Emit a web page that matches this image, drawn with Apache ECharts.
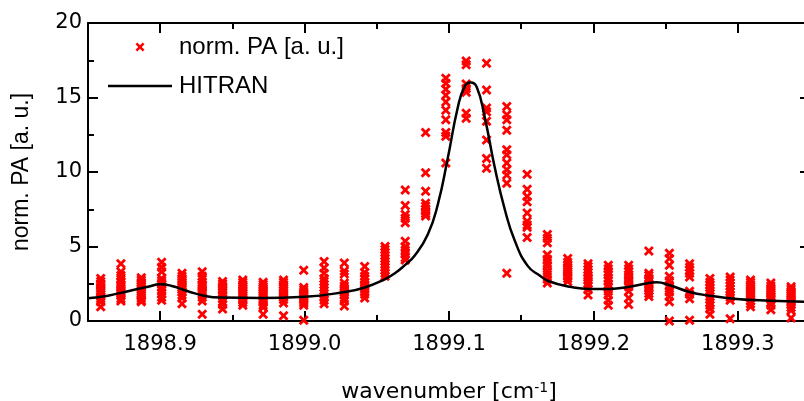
<!DOCTYPE html>
<html>
<head>
<meta charset="utf-8">
<script src="https://cdn.jsdelivr.net/npm/echarts@6/dist/echarts.min.js"></script>
<style>html,body{margin:0;padding:0;background:#fff;}#c{width:804px;height:401px;}</style>
</head>
<body>
<div id="c"></div>
<script>
// ---- data ----
const xMajorTicks = [1898.9, 1899.0, 1899.1, 1899.2, 1899.3];
const xMinorTicks = [1898.85, 1898.95, 1899.05, 1899.15, 1899.25, 1899.35];

// wavenumber of each measurement group
const paX = [1898.8588, 1898.8728, 1898.8869, 1898.9010, 1898.9151, 1898.9291, 1898.9432,
  1898.9572, 1898.9713, 1898.9854, 1898.9994, 1899.0135, 1899.0275, 1899.0416, 1899.0557,
  1899.0697, 1899.0838, 1899.0978, 1899.1119, 1899.1260, 1899.1400, 1899.1541, 1899.1681,
  1899.1822, 1899.1963, 1899.2103, 1899.2244, 1899.2384, 1899.2526, 1899.2666, 1899.2807,
  1899.2947, 1899.3088, 1899.3229, 1899.3369];

// normalised PA values measured at each wavenumber
const paY = [
  [2.85, 2.65, 2.5, 2.35, 2.2, 2.05, 1.95, 1.8, 1.65, 1.5, 1.3, 0.95],
  [3.85, 3.3, 3.05, 2.8, 2.6, 2.45, 2.3, 2.15, 2.0, 1.85, 1.7, 1.5, 1.35],
  [2.9, 2.75, 2.6, 2.45, 2.3, 2.15, 2.0, 1.85, 1.7, 1.55, 1.4, 1.3],
  [3.95, 3.6, 3.3, 2.85, 2.7, 2.55, 2.45, 2.3, 2.1, 1.85, 1.6, 1.4],
  [3.2, 3.0, 2.85, 2.7, 2.55, 2.4, 2.25, 2.1, 1.95, 1.75, 1.55, 1.15],
  [3.3, 3.0, 2.8, 2.6, 2.45, 2.3, 2.15, 2.0, 1.85, 1.6, 1.35, 0.45],
  [2.65, 2.5, 2.35, 2.2, 2.05, 1.9, 1.7, 1.5, 1.3, 1.1, 0.8],
  [2.75, 2.6, 2.45, 2.3, 2.15, 2.0, 1.85, 1.7, 1.55, 1.4, 1.25, 1.05],
  [2.6, 2.45, 2.3, 2.15, 2.0, 1.85, 1.7, 1.55, 1.4, 1.25, 1.05, 0.9, 0.45],
  [2.75, 2.6, 2.45, 2.3, 2.2, 2.05, 1.9, 1.75, 1.6, 1.45, 1.2, 0.35],
  [3.4, 2.25, 2.1, 1.95, 1.8, 1.65, 1.5, 1.35, 1.2, 1.05, 0.05],
  [4.0, 3.55, 3.2, 2.85, 2.65, 2.45, 2.25, 2.05, 1.85, 1.65, 1.4, 1.15],
  [3.9, 3.35, 3.15, 2.55, 2.35, 2.2, 2.05, 1.9, 1.75, 1.55, 1.35, 1.0],
  [3.65, 3.25, 3.0, 2.8, 2.6, 2.45, 2.3, 2.15, 2.0, 1.8, 1.55],
  [5.0, 4.8, 4.6, 4.4, 4.2, 4.0, 3.8, 3.6, 3.4, 3.2, 3.0],
  [8.8, 7.75, 7.15, 6.9, 6.6, 5.35, 5.0, 4.75, 4.5, 4.25, 4.1],
  [12.65, 9.95, 8.7, 7.9, 7.7, 7.5, 7.35, 7.2, 7.05],
  [16.3, 15.95, 15.55, 15.15, 14.7, 14.15, 13.5, 12.65, 12.4, 10.6],
  [17.45, 17.2, 15.9, 15.6, 15.35, 13.95, 13.6],
  [17.3, 15.5, 14.3, 14.05, 13.4, 12.15, 10.9, 10.25],
  [14.4, 13.85, 13.5, 12.8, 11.5, 11.15, 10.6, 10.15, 9.8, 9.25, 3.2],
  [9.85, 8.85, 8.35, 8.0, 7.25, 6.7, 6.45, 6.3, 5.6],
  [5.8, 5.55, 5.25, 4.45, 4.15, 3.9, 3.65, 3.35, 3.1, 2.8, 2.55],
  [4.2, 3.95, 3.75, 3.6, 3.45, 3.3, 3.15, 3.0, 2.85, 2.65],
  [3.85, 3.65, 3.45, 3.25, 3.05, 2.9, 2.75, 2.55, 2.35, 2.1, 1.75],
  [3.75, 3.5, 3.25, 3.1, 2.9, 2.7, 2.45, 2.25, 2.0, 1.75, 1.4, 1.05],
  [3.75, 3.5, 3.3, 3.1, 2.95, 2.8, 2.65, 2.45, 2.3, 2.0, 1.55, 1.1],
  [4.7, 3.2, 3.05, 2.85, 2.7, 2.5, 2.35, 2.2, 2.05, 1.85, 1.65],
  [4.55, 4.2, 3.75, 3.0, 2.7, 2.4, 2.2, 1.95, 1.65, 1.3, 0.0],
  [3.85, 3.6, 3.4, 3.2, 2.95, 2.0, 1.8, 1.5, 0.05],
  [2.85, 2.6, 2.4, 2.25, 2.05, 1.85, 1.65, 1.45, 1.25, 1.05, 0.8, 0.45],
  [2.95, 2.75, 2.55, 2.35, 2.15, 1.95, 1.75, 1.6, 1.4, 0.15],
  [2.75, 2.6, 2.45, 2.3, 2.15, 2.0, 1.85, 1.7, 1.55, 1.35, 1.15, 0.95],
  [2.55, 2.35, 2.2, 2.05, 1.9, 1.75, 1.6, 1.45, 1.25, 1.05, 0.75],
  [2.3, 2.15, 2.0, 1.85, 1.7, 1.55, 1.4, 1.25, 1.1, 0.9, 0.7, 0.2]
];

// HITRAN simulated spectrum
const hitranX = [1898.8500, 1898.8638, 1898.8777, 1898.8915, 1898.9000, 1898.9074, 1898.9192,
  1898.9310, 1898.9420, 1898.9697, 1899.0002, 1899.0279, 1899.0417, 1899.0555, 1899.0625,
  1899.0694, 1899.0763, 1899.0853, 1899.0922, 1899.0991, 1899.1060, 1899.1109, 1899.1150,
  1899.1192, 1899.1247, 1899.1317, 1899.1386, 1899.1455, 1899.1545, 1899.1628, 1899.1697,
  1899.1836, 1899.1974, 1899.2112, 1899.2251, 1899.2355, 1899.2438, 1899.2528, 1899.2666,
  1899.2804, 1899.2991, 1899.3220, 1899.3500];
const hitranY = [1.52, 1.70, 2.0, 2.3, 2.46, 2.37, 2.0,
  1.68, 1.57, 1.55, 1.63, 1.95, 2.25, 2.8, 3.2,
  3.75, 4.4, 5.8, 7.8, 10.9, 14.3, 15.75, 16.0,
  15.7, 13.7, 10.3, 7.5, 5.4, 3.7, 3.05, 2.65,
  2.3, 2.15, 2.15, 2.3, 2.5, 2.6, 2.4, 1.95,
  1.7, 1.48, 1.36, 1.28];

const seriesNames = ['norm. PA [a. u.]', 'HITRAN'];
const yTitle = 'norm. PA [a. u.]';

// ---- build chart ----
const scatterData = [];
paX.forEach((x, i) => paY[i].forEach(y => scatterData.push([x, y])));
const lineData = hitranX.map((x, i) => [x, hitranY[i]]);

const crossPath = 'path://M0,2L2,0L5,3L8,0L10,2L7,5L10,8L8,10L5,7L2,10L0,8L3,5Z';
const linePath = 'path://M0,0L64,0L64,2.5L0,2.5Z';
const tickFont = 'DejaVu Sans';
const AX = {color: '#000', width: 2};
const XMIN = 1898.85, XMAX = 1899.35;

function xAxisDef(pos, ticks, len, showLine, showLabel) {
  return {
    type: 'value', position: pos, min: XMIN, max: XMAX,
    splitLine: {show: false},
    axisLine: {show: showLine, lineStyle: AX},
    axisTick: {show: true, inside: true, length: len, lineStyle: AX, customValues: ticks},
    axisLabel: showLabel ? {
      show: true, customValues: ticks, margin: 13, color: '#000',
      fontFamily: tickFont, fontSize: 21,
      formatter: v => Number(v).toFixed(1)
    } : {show: false}
  };
}

const option = {
  animation: false,
  backgroundColor: '#fff',
  grid: {left: 88, top: 23, width: 722, height: 298, containLabel: false, outerBoundsMode: 'none'},
  legend: {
    orient: 'vertical', left: 103, top: 30,
    itemWidth: 64, itemHeight: 9, itemGap: 15, itemSymbolKeepAspect: true,
    textStyle: {fontFamily: 'Liberation Sans', fontSize: 24, color: '#000', padding: [0, 0, 0, 2]},
    data: [
      {name: seriesNames[0], icon: crossPath},
      {name: seriesNames[1], icon: linePath}
    ]
  },
  xAxis: [
    Object.assign(xAxisDef('bottom', xMajorTicks, 10, true, true), {
      name: 'wavenumber [cm{sup|-1}]', nameLocation: 'middle', nameGap: 60,
      nameTextStyle: {
        fontFamily: tickFont, fontSize: 22, color: '#000',
        rich: {sup: {fontFamily: tickFont, fontSize: 14, color: '#000', verticalAlign: 'top', lineHeight: 14, padding: [0, 0, 16, 0]}}
      }
    }),
    xAxisDef('bottom', xMinorTicks, 6, false, false),
    xAxisDef('top', xMajorTicks, 10, true, false),
    xAxisDef('top', xMinorTicks, 6, false, false)
  ],
  yAxis: [
    {
      type: 'value', min: 0, max: 20, interval: 5, position: 'left',
      name: yTitle, nameLocation: 'middle', nameGap: 55, nameRotate: 90,
      nameTextStyle: {fontFamily: 'Liberation Sans', fontSize: 23, color: '#000'},
      splitLine: {show: false},
      axisLine: {show: true, lineStyle: AX},
      axisTick: {show: true, inside: true, length: 10, lineStyle: AX},
      minorTick: {show: true, splitNumber: 2, length: 6, lineStyle: AX},
      axisLabel: {color: '#000', fontFamily: tickFont, fontSize: 21, margin: 6}
    },
    {
      type: 'value', min: 0, max: 20, interval: 5, position: 'right',
      splitLine: {show: false},
      axisLine: {show: true, lineStyle: AX},
      axisTick: {show: true, inside: true, length: 10, lineStyle: AX},
      minorTick: {show: true, splitNumber: 2, length: 6, lineStyle: AX},
      axisLabel: {show: false}
    }
  ],
  series: [
    {
      name: seriesNames[0], type: 'scatter', xAxisIndex: 0, yAxisIndex: 0,
      symbol: crossPath, symbolSize: 10, clip: false,
      itemStyle: {color: '#ff0000', opacity: 1},
      data: scatterData, z: 2
    },
    {
      name: seriesNames[1], type: 'line', xAxisIndex: 0, yAxisIndex: 0,
      showSymbol: false, symbol: 'none', smooth: 0.5,
      lineStyle: {color: '#000', width: 2.5},
      itemStyle: {color: '#000'},
      data: lineData, z: 3
    }
  ]
};

const chart = echarts.init(document.getElementById('c'), null, {renderer: 'canvas'});
chart.setOption(option);
</script>
</body>
</html>
